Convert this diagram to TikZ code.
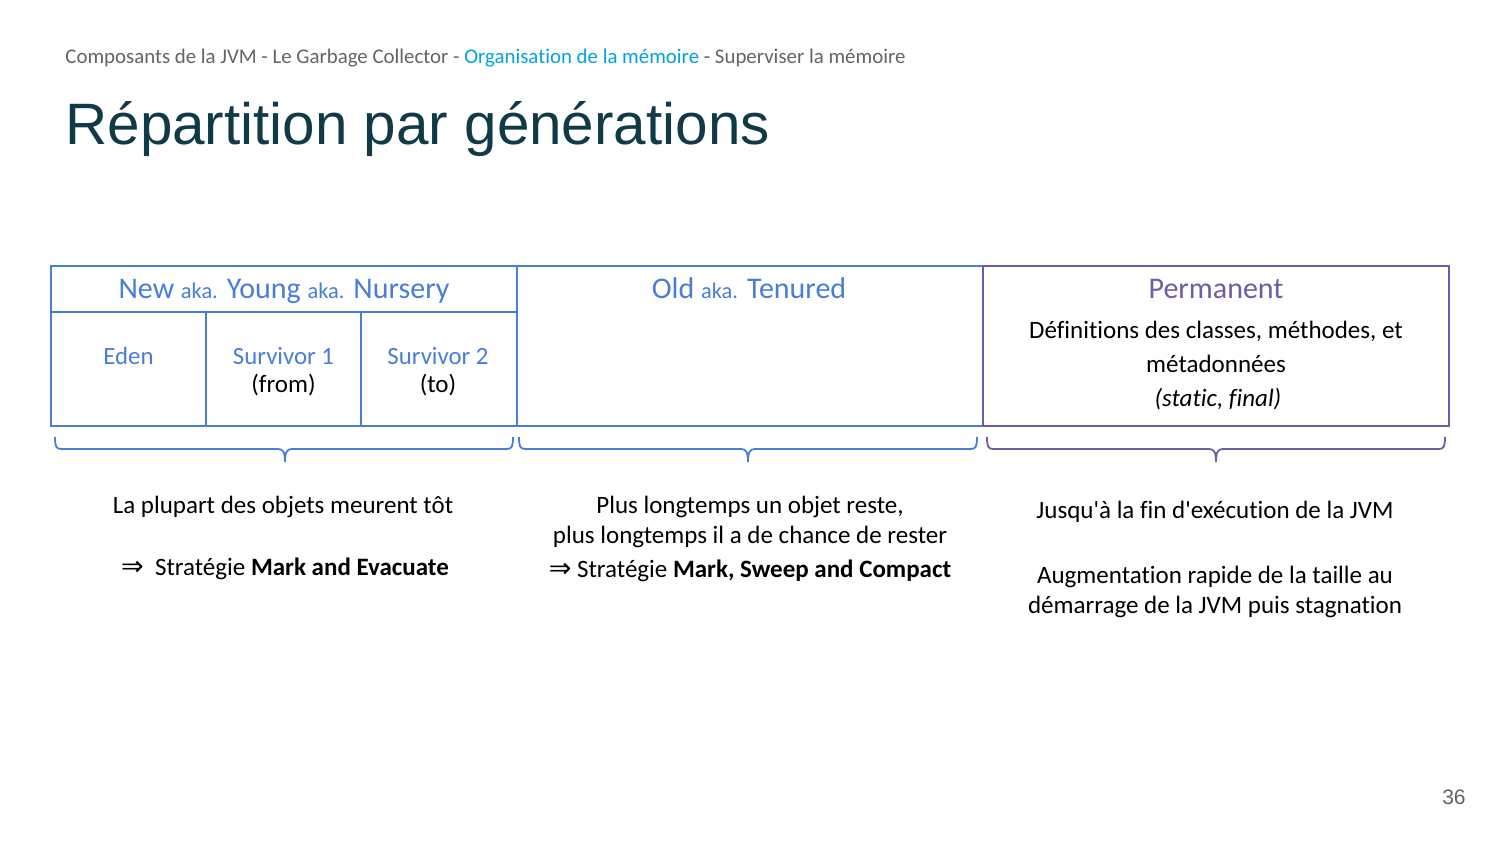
\documentclass[tikz,border=0pt]{standalone}
\usepackage{fontspec}
\setmainfont{Carlito}[Ligatures={TeXOff,CommonOff}]
\newfontfamily\arialf{Liberation Sans}
\newfontfamily\dejavuf{DejaVu Sans}
\definecolor{bluec}{RGB}{72,126,216}
\definecolor{purp}{RGB}{112,90,170}
\definecolor{titlec}{RGB}{16,58,70}
\definecolor{crumb}{RGB}{100,100,100}
\definecolor{cyanc}{RGB}{0,163,224}
\tikzset{
  cell/.style={draw=bluec, line width=1pt, inner sep=0pt},
  pcell/.style={draw=purp, line width=1pt, inner sep=0pt},
  hdr/.style={anchor=base, inner sep=0pt, text=bluec, font=\fontsize{15}{17}\selectfont},
  sub/.style={anchor=base, inner sep=0pt, text=bluec, font=\fontsize{12.4}{14}\selectfont},
  plain/.style={anchor=base, inner sep=0pt, font=\fontsize{12.5}{14}\selectfont},
  body/.style={anchor=base, inner sep=0pt, font=\fontsize{12.5}{14}\selectfont},
  gbrace/.style={line width=0.9pt}
}
\newcommand{\akasmall}{{\fontsize{11.2}{13}\selectfont aka.}}
\newcommand{\implarrow}{{\dejavuf\fontsize{13.5}{14}\selectfont ⇒}}
\begin{document}
\begin{tikzpicture}[x=0.5pt,y=-0.5pt]
\useasboundingbox (0,0) rectangle (1500,844);
\fill[white] (0,0) rectangle (1500,844);

% breadcrumb and title
\node[anchor=base west, inner sep=0pt, text=crumb, font=\fontsize{10.43}{12}\selectfont] (crumb) at (65,64)
  {Composants de la JVM - Le Garbage Collector - \textcolor{cyanc}{Organisation de la mémoire} - Superviser la mémoire};
\node[anchor=base west, inner sep=0pt, text=titlec, font=\arialf\fontsize{29.2}{33}\selectfont] (title) at (65,145)
  {Répartition par générations};

% boxes
\node[cell, minimum width=233pt, minimum height=23pt] (newh) at (284,289) {};
\node[cell, minimum width=77.5pt, minimum height=57pt] (eden) at (128.5,369) {};
\node[cell, minimum width=77.5pt, minimum height=57pt] (surv1) at (283.5,369) {};
\node[cell, minimum width=78pt, minimum height=57pt] (surv2) at (439,369) {};
\node[cell, minimum width=233pt, minimum height=80pt] (old) at (750,346) {};
\node[pcell, minimum width=233pt, minimum height=80pt] (perm) at (1216,346) {};

% box texts
\node[hdr] (newt) at (284,299) {New \akasmall{} Young \akasmall{} Nursery};
\node[hdr] (oldt) at (749,299) {Old \akasmall{} Tenured};
\node[hdr, text=purp] (permt) at (1216,299) {Permanent};
\node[sub] (edent) at (128.5,365) {Eden};
\node[sub] (s1t) at (283.5,365) {Survivor 1};
\node[plain] (s1f) at (283.5,393) {(from)};
\node[sub] (s2t) at (438,365) {Survivor 2};
\node[plain] (s2f) at (438,393) {(to)};
\node[plain] (pd1) at (1216,339) {Définitions des classes, méthodes, et};
\node[plain] (pd2) at (1216,373) {métadonnées};
\node[plain] (pd3) at (1218,407) {\itshape (static, final)};

% braces
\foreach \xa/\xm/\xb/\cc in {55/285/513/bluec, 519/748/977/bluec, 987/1216/1445/purp}{
  \draw[gbrace, draw=\cc] (\xa,437) .. controls (\xa,446) and (\xa+1,449) .. (\xa+6,449)
    -- (\xm-7,449) .. controls (\xm-2,449) and (\xm,452) .. (\xm,462)
    .. controls (\xm,452) and (\xm+2,449) .. (\xm+7,449)
    -- (\xb-6,449) .. controls (\xb-1,449) and (\xb,446) .. (\xb,437);
}

% descriptions
\node[body] (d1a) at (283,514) {La plupart des objets meurent tôt};
\node[body] (d1b) at (285,575) {\implarrow\ \ Stratégie \textbf{Mark and Evacuate}};
\node[body] (d2a) at (750,514) {Plus longtemps un objet reste,};
\node[body] (d2b) at (750,544) {plus longtemps il a de chance de rester};
\node[body] (d2c) at (750,578) {\implarrow\ Stratégie \textbf{Mark, Sweep and Compact}};
\node[body] (d3a) at (1215,519) {Jusqu'à la fin d'exécution de la JVM};
\node[body] (d3b) at (1215,583) {Augmentation rapide de la taille au};
\node[body] (d3c) at (1215,613) {démarrage de la JVM puis stagnation};

% page number
\node[anchor=base east, inner sep=0pt, text=crumb, font=\arialf\fontsize{10.5}{12}\selectfont] (pnum) at (1466,804) {36};
\end{tikzpicture}
\end{document}
